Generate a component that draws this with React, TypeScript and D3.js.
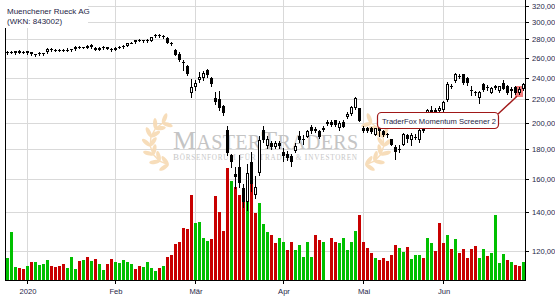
import React from "react";
import * as d3 from "d3";

const W = 555;
const H = 300;

const titleLines = ["Muenchener Rueck AG", "(WKN: 843002)"];
const monthLabels = ["2020", "Feb", "Mär", "Apr", "Mai", "Jun"];
const monthIndex = [5, 27, 47, 69, 89, 109];
const priceTicks = [120, 140, 160, 180, 200, 220, 240, 260, 280, 300, 320];
const annotationText = "TraderFox Momentum Screener 2";
const annotationIndex = 128;

const open = [
  265, 266, 267, 267.5, 266.5, 265, 266, 263.5, 264, 265,
  266, 269.5, 268, 268.5, 268.3, 268.8, 268.5, 269, 271.5, 271,
  271, 272, 271, 268.5, 271, 271.5, 269.5, 268.5, 271, 271.5,
  273, 276, 277, 279, 278.5, 279, 278.5, 285.5, 285, 283,
  282, 276, 268, 264, 256, 252, 226, 231.5, 238, 240,
  248, 240, 221.5, 220.5, 214, 195, 176, 163, 168, 154,
  146, 171.5, 150, 164, 194.5, 182.6, 185, 182, 185, 178.5,
  177, 175.5, 179, 190, 187.5, 189.6, 197.3, 195.6, 194, 194.5,
  199.2, 201, 202.6, 196, 201, 205, 207.6, 212.6, 212.6, 196.5,
  196, 196, 191, 197.3, 193.8, 191.5, 187.5, 181.5, 180, 183.5,
  190.5, 187, 189.5, 187, 195.5, 208, 209.5, 210.5, 210, 210.8,
  219.3, 232, 237, 241, 243.5, 239.5, 228.5, 225.5, 221, 234,
  231, 226, 232, 227.7, 235.5, 232.5, 229.5, 231.5, 225.5, 229,
];
const high = [
  267, 267, 267.5, 268, 267, 267.5, 266.5, 264.5, 266.5, 265.5,
  270, 270, 269.5, 269.5, 269.5, 270, 269.5, 272.5, 272.5, 272,
  273.5, 274.5, 271.5, 271.5, 272.5, 272, 270, 271.5, 272.5, 273.5,
  276.5, 277.5, 279.5, 280, 279.5, 280, 283, 286.5, 286.5, 285,
  283, 277, 269, 266, 258, 253, 239, 238, 246, 247,
  249, 241, 227, 228, 215, 198, 177, 168, 176, 157,
  169.5, 178, 161.5, 190, 197.5, 190, 186.5, 186.5, 186, 181,
  179, 176.5, 184.5, 194, 191, 195, 198.5, 197, 195, 198,
  202.5, 202.5, 203, 201.5, 203, 209, 214.5, 222.5, 213, 197.5,
  197, 197, 196.5, 198.5, 195, 192.5, 188, 183, 183, 192,
  191.5, 192, 191.5, 196.5, 198, 212, 214, 212.5, 214, 218.5,
  236, 234.5, 245, 243.5, 244, 241, 232, 228, 227.5, 235.5,
  233, 231.5, 233.5, 232.5, 237.5, 233.5, 231, 232, 231, 235.5,
];
const low = [
  264, 265, 264.5, 265, 265, 264.5, 262.5, 261.5, 263.5, 263,
  265.5, 267, 267, 267.5, 267, 267.5, 267.5, 268.5, 270, 270,
  270, 271, 268, 268, 269.5, 269, 267.5, 268, 270, 270.5,
  272.5, 275.5, 276.5, 278, 277.5, 277.5, 278, 282.5, 283, 282,
  276, 273.5, 262.5, 256.5, 247.5, 243, 222.5, 228.5, 236, 238,
  240.5, 232.5, 216, 211, 207, 176, 168, 154, 155, 143,
  141, 152.5, 148, 162.5, 185.5, 181, 180, 181, 181, 172,
  172.5, 168.5, 178, 185.5, 184, 189, 192.5, 193, 188.5, 194,
  198.5, 198, 198, 194.5, 196.7, 204, 207, 211.6, 201.5, 193,
  193, 192.5, 190.5, 190, 190, 189, 183, 173.5, 178, 183,
  185.5, 183.5, 187.5, 185.3, 193, 207, 208, 208, 209.5, 209.5,
  218.5, 230, 236, 239.5, 234, 233, 224, 224, 217, 228,
  228.5, 225.5, 229.5, 227, 229, 225, 222.5, 224.5, 224.5, 228.5,
];
const close = [
  266, 266.3, 265.5, 265.5, 265.5, 267, 264.5, 263.8, 265.5, 265.2,
  269.5, 268, 268.5, 268.3, 268.8, 268.5, 269, 272, 271, 271.5,
  273, 273.5, 268.5, 271, 271.5, 269.5, 268.5, 271, 271.5, 273,
  276, 276.5, 279, 278.3, 279, 278.5, 282.5, 284, 284, 283.5,
  276.5, 275, 263, 257.5, 255, 244, 231, 235, 240.5, 245,
  243, 234.5, 217.5, 212.5, 208, 177.5, 171.5, 161, 157.5, 146,
  163.5, 157, 155, 187, 187, 187.5, 182, 185, 182.5, 175,
  174, 171, 182.7, 187, 187, 193.6, 193.6, 194, 189, 196.5,
  201, 198.8, 198.4, 200.3, 197.3, 207.6, 213.7, 221, 201.7, 193.8,
  193.8, 193.2, 196, 193.8, 190.5, 190.8, 183.5, 178, 179.5, 191.5,
  188, 190.5, 189, 194.3, 193.8, 210.5, 211, 209.5, 212.5, 217.5,
  234.5, 231.5, 243.6, 242, 235, 234.8, 227.5, 226.5, 226.5, 228.5,
  230.5, 230.5, 230, 231.8, 229.5, 225.5, 227.5, 225.5, 229.5, 234,
];
const volume = [
  440, 960, 260, 240, 220, 280, 360, 360, 300, 320,
  400, 280, 260, 280, 320, 240, 460, 220, 380, 400,
  460, 380, 420, 320, 200, 320, 420, 360, 340, 400,
  360, 320, 220, 280, 260, 360, 240, 180, 240, 280,
  460, 500, 720, 766, 1046, 1026, 1700, 1134, 1166, 846,
  780, 820, 1680, 1366, 980, 2246, 1980, 1866, 1700, 1566,
  1566, 1934, 1334, 1546, 1114, 966, 900, 740, 834, 766,
  600, 766, 600, 700, 466, 766, 466, 900, 800, 766,
  0, 834, 766, 734, 834, 600, 766, 986, 1300, 766,
  634, 546, 434, 400, 440, 380, 500, 700, 640, 554,
  654, 420, 500, 500, 440, 846, 746, 580, 1146, 746,
  900, 620, 814, 546, 620, 440, 620, 680, 434, 620,
  480, 546, 1300, 340, 520, 400, 360, 300, 280, 360,
];
// g = volume bar drawn green, r = drawn red
const volumeDir = [
  "gggrrgrggg", "grrrrgggrg", "rgrggrrggg", "ggrrggggrg",
  "rrrrrrrggg", "grrrrrgrrr", "grrgggrrgg", "rrgggggrrg",
  "grrgggggrr", "rrgrrrrrgg", "rgggrggrrr", "grgrrrrrgg",
  "rggggrgrrg",
].join("").split("");

const FONT = "'Liberation Sans', Arial, sans-serif";
const TEXT = "#1e1e46";
const GRID = "#d9d9d9";
const UP_VOL = "#00c000";
const DOWN_VOL = "#c80000";
const LAUREL = "#f7dab3";
const ANNOT = "#a01818";

function Laurel({ cx, cy, r, mirror }: { cx: number; cy: number; r: number; mirror: boolean }) {
  const s = mirror ? -1 : 1;
  const n = 7;
  const leaves: JSX.Element[] = [];
  const stem = d3.path();
  for (let k = 0; k < n; k++) {
    const th = ((100 + (k * 145) / (n - 1)) * Math.PI) / 180;
    const px = cx + s * r * Math.cos(th);
    const py = cy + r * Math.sin(th);
    if (k === 0) stem.moveTo(px, py);
    else stem.lineTo(px, py);
    const tx = -s * Math.sin(th);
    const ty = Math.cos(th);
    const base = Math.atan2(ty, tx);
    [-0.75, 0.75].forEach((off, j) => {
      const a = base + off;
      const lx = px + Math.cos(a) * 5;
      const ly = py + Math.sin(a) * 5;
      leaves.push(
        <ellipse
          key={`${k}-${j}`}
          cx={lx}
          cy={ly}
          rx={5.5}
          ry={2.1}
          transform={`rotate(${(a * 180) / Math.PI} ${lx} ${ly})`}
          fill={LAUREL}
        />
      );
    });
  }
  return (
    <g opacity={0.9}>
      <path d={stem.toString()} fill="none" stroke={LAUREL} strokeWidth={1.4} />
      {leaves}
    </g>
  );
}

export default function App() {
  const n = open.length;
  const x = d3.scaleLinear().domain([0, n - 1]).range([7, 7 + 4 * (n - 1)]);
  const y = d3.scaleLog().domain([120, 320]).range([250.5, 6.1]);
  const yv = d3.scaleLinear().domain([0, 2400]).range([280, 160]);

  const left = 5;
  const right = 525;
  const bottom = 280;

  const fmt = (v: number) => v.toFixed(2).replace(".", ",");
  const ax = x(annotationIndex);

  return (
    <svg
      width={W}
      height={H}
      viewBox={`0 0 ${W} ${H}`}
      style={{ position: "absolute", left: 0, top: 0, background: "#fff" }}
      fontFamily={FONT}
    >
      <rect x={0} y={0} width={W} height={H} fill="#fff" />
      {/* grid */}
      {priceTicks.map((t) => (
        <line key={`h${t}`} x1={left} x2={right} y1={Math.round(y(t)) + 0.5} y2={Math.round(y(t)) + 0.5} stroke={GRID} />
      ))}
      {monthIndex.map((m, i) => (
        <line key={`v${i}`} x1={x(m) + 0.5} x2={x(m) + 0.5} y1={0} y2={bottom} stroke={GRID} />
      ))}

      {/* watermark */}
      <Laurel cx={172} cy={143} r={22} mirror={false} />
      <Laurel cx={362} cy={143} r={22} mirror={true} />
      <text x={173} y={149} fill="#c4c4c4" fontFamily="'Liberation Serif', 'DejaVu Serif', serif" textLength={185} lengthAdjust="spacing">
        <tspan fontSize={26}>M</tspan>
        <tspan fontSize={20}>ASTER</tspan>
        <tspan fontSize={26}>T</tspan>
        <tspan fontSize={20}>RADERS</tspan>
      </text>
      <text x={173} y={160} fill="#c8c8c8" fontFamily="'Liberation Serif', 'DejaVu Serif', serif" textLength={184} lengthAdjust="spacing">
        <tspan fontSize={9}>B</tspan>
        <tspan fontSize={7.2}>ÖRSENFORUM </tspan>
        <tspan fontSize={9}>F</tspan>
        <tspan fontSize={7.2}>ÜR </tspan>
        <tspan fontSize={9}>T</tspan>
        <tspan fontSize={7.2}>RADER & </tspan>
        <tspan fontSize={9}>I</tspan>
        <tspan fontSize={7.2}>NVESTOREN</tspan>
      </text>

      {/* volume */}
      {volume.map((v, i) => {
        const top = Math.round(yv(v));
        if (v <= 0) return null;
        return (
          <rect
            key={`vol${i}`}
            x={x(i) - 1}
            y={top}
            width={3}
            height={bottom - top}
            fill={volumeDir[i] === "g" ? UP_VOL : DOWN_VOL}
          />
        );
      })}

      {/* highlight */}
      <rect x={ax - 4} y={Math.round(y(231)) - 1} width={8} height={11} fill="#f47c7c" />

      {/* candles */}
      {open.map((o, i) => {
        const c = close[i];
        const cx = x(i);
        const yh = Math.round(y(high[i]));
        const yl = Math.round(y(low[i]));
        const yt = Math.round(y(Math.max(o, c)));
        const yb = Math.round(y(Math.min(o, c)));
        const up = c >= o;
        const h = Math.max(1, yb - yt);
        return (
          <g key={`c${i}`}>
            <line x1={cx + 0.5} x2={cx + 0.5} y1={yh} y2={yl + 1} stroke="#000" />
            {up && h >= 3 ? (
              <rect x={cx - 0.5} y={yt + 0.5} width={2} height={h - 1} fill="#fff" stroke="#000" />
            ) : (
              <rect x={cx - 1} y={yt} width={3} height={h} fill="#000" />
            )}
          </g>
        );
      })}

      {/* annotation */}
      <line x1={498} y1={114} x2={ax - 2} y2={y(231) + 9} stroke={ANNOT} strokeWidth={1.4} />
      <rect x={377.5} y={112.5} width={121} height={16} rx={4} fill="#fff" stroke={ANNOT} strokeWidth={1.2} />
      <text x={382} y={124} fontSize={7.6} fill={TEXT}>
        {annotationText}
      </text>

      {/* axes */}
      <line x1={left + 0.5} x2={left + 0.5} y1={0} y2={bottom} stroke="#000" />
      <line x1={right + 0.5} x2={right + 0.5} y1={0} y2={bottom + 0.5} stroke="#000" />
      <line x1={left} x2={right + 1} y1={bottom + 0.5} y2={bottom + 0.5} stroke="#000" />
      {monthIndex.map((m, i) => (
        <g key={`mt${i}`}>
          <line x1={x(m) + 0.5} x2={x(m) + 0.5} y1={bottom} y2={bottom + 4} stroke="#000" />
          <text x={x(m) + 1} y={294} fontSize={7.6} textAnchor="middle" fill={TEXT}>
            {monthLabels[i]}
          </text>
        </g>
      ))}
      {priceTicks.map((t) => (
        <g key={`pt${t}`}>
          <line x1={right} x2={right + 4} y1={Math.round(y(t)) + 0.5} y2={Math.round(y(t)) + 0.5} stroke="#000" />
          <text x={532} y={Math.round(y(t)) + 3} fontSize={7.6} fill={TEXT}>
            {fmt(t)}
          </text>
        </g>
      ))}

      {/* title */}
      <rect x={0} y={0} width={88} height={28} fill="#fff" />
      {titleLines.map((t, i) => (
        <text key={`t${i}`} x={7} y={14 + i * 9.5} fontSize={8} fill={TEXT}>
          {t}
        </text>
      ))}
    </svg>
  );
}
